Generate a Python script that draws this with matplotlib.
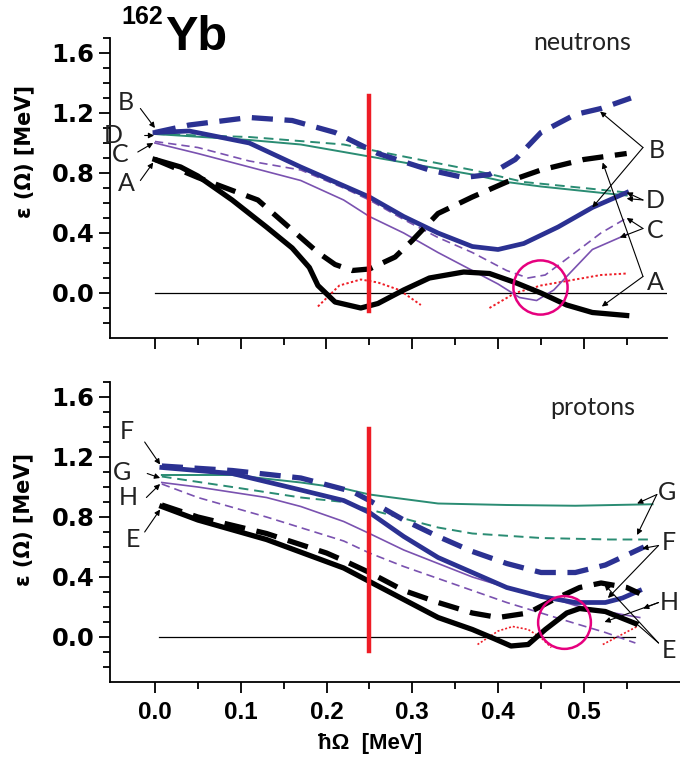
import matplotlib
matplotlib.use("Agg")
import matplotlib.pyplot as plt
from matplotlib.ticker import FixedLocator, FormatStrFormatter

# ---------------- data: neutrons (top panel) ----------------
nA_x = [0.0, 0.03, 0.05, 0.09, 0.13, 0.16, 0.18, 0.19, 0.21, 0.24, 0.26, 0.29, 0.32, 0.36, 0.39, 0.42, 0.45, 0.48, 0.51, 0.55]
nA_y = [0.89, 0.84, 0.78, 0.62, 0.44, 0.30, 0.17, 0.05, -0.06, -0.10, -0.07, 0.02, 0.10, 0.14, 0.13, 0.07, 0.0, -0.08, -0.13, -0.15]
nAd_x = [0.0, 0.05, 0.12, 0.16, 0.19, 0.21, 0.23, 0.25, 0.28, 0.30, 0.33, 0.37, 0.41, 0.45, 0.50, 0.55]
nAd_y = [0.89, 0.77, 0.62, 0.42, 0.27, 0.19, 0.15, 0.16, 0.24, 0.35, 0.53, 0.64, 0.74, 0.82, 0.89, 0.93]
nB_x = [0.0, 0.04, 0.11, 0.17, 0.21, 0.25, 0.29, 0.33, 0.37, 0.40, 0.43, 0.47, 0.51, 0.55]
nB_y = [1.07, 1.08, 1.00, 0.84, 0.74, 0.64, 0.51, 0.40, 0.31, 0.29, 0.33, 0.44, 0.57, 0.67]
nBd_x = [0.0, 0.04, 0.11, 0.16, 0.21, 0.26, 0.32, 0.36, 0.39, 0.42, 0.45, 0.49, 0.52, 0.555]
nBd_y = [1.07, 1.12, 1.17, 1.15, 1.07, 0.93, 0.82, 0.77, 0.79, 0.89, 1.07, 1.19, 1.23, 1.30]
nD_x = [0.0, 0.11, 0.17, 0.22, 0.29, 0.37, 0.41, 0.45, 0.50, 0.55]
nD_y = [1.06, 1.02, 0.99, 0.94, 0.87, 0.79, 0.74, 0.71, 0.68, 0.65]
nDd_x = [0.0, 0.11, 0.22, 0.29, 0.37, 0.43, 0.50, 0.55]
nDd_y = [1.06, 1.04, 0.99, 0.91, 0.82, 0.74, 0.70, 0.67]
nC_x = [0.0, 0.05, 0.11, 0.17, 0.22, 0.25, 0.29, 0.33, 0.37, 0.40, 0.425, 0.445, 0.465, 0.49, 0.51, 0.55]
nC_y = [1.00, 0.93, 0.84, 0.75, 0.62, 0.51, 0.40, 0.27, 0.15, 0.06, -0.03, -0.05, 0.02, 0.17, 0.29, 0.39]
nCd_x = [0.0, 0.05, 0.11, 0.17, 0.22, 0.25, 0.29, 0.33, 0.37, 0.41, 0.435, 0.455, 0.49, 0.52, 0.55]
nCd_y = [1.01, 0.97, 0.88, 0.82, 0.70, 0.62, 0.49, 0.37, 0.27, 0.15, 0.10, 0.12, 0.27, 0.40, 0.50]
nR1_x = [0.19, 0.215, 0.24, 0.26, 0.285, 0.31]
nR1_y = [-0.09, 0.05, 0.09, 0.07, 0.02, -0.08]
nR2_x = [0.39, 0.42, 0.45, 0.49, 0.52, 0.55]
nR2_y = [-0.10, 0.0, 0.05, 0.09, 0.12, 0.13]
n_circle = (0.449, 0.04)

# ---------------- data: protons (bottom panel) ----------------
pE_x = [0.008, 0.05, 0.13, 0.22, 0.25, 0.29, 0.33, 0.37, 0.395, 0.415, 0.435, 0.455, 0.48, 0.495, 0.525, 0.56]
pE_y = [0.87, 0.78, 0.65, 0.46, 0.37, 0.25, 0.13, 0.05, -0.01, -0.06, -0.05, 0.05, 0.16, 0.19, 0.17, 0.09]
pEd_x = [0.008, 0.05, 0.13, 0.20, 0.22, 0.25, 0.29, 0.33, 0.37, 0.40, 0.435, 0.465, 0.495, 0.52, 0.55, 0.565]
pEd_y = [0.88, 0.80, 0.69, 0.56, 0.51, 0.43, 0.31, 0.23, 0.16, 0.13, 0.16, 0.25, 0.33, 0.36, 0.33, 0.29]
pF_x = [0.008, 0.09, 0.17, 0.22, 0.25, 0.29, 0.33, 0.37, 0.41, 0.45, 0.49, 0.525, 0.545, 0.565]
pF_y = [1.13, 1.09, 0.98, 0.91, 0.83, 0.67, 0.53, 0.43, 0.33, 0.27, 0.23, 0.23, 0.26, 0.31]
pFd_x = [0.008, 0.09, 0.17, 0.21, 0.23, 0.25, 0.29, 0.33, 0.37, 0.41, 0.45, 0.49, 0.525, 0.555, 0.57]
pFd_y = [1.14, 1.11, 1.06, 1.00, 0.97, 0.91, 0.78, 0.67, 0.57, 0.49, 0.43, 0.43, 0.48, 0.56, 0.60]
pG_x = [0.008, 0.09, 0.17, 0.22, 0.25, 0.33, 0.41, 0.49, 0.58]
pG_y = [1.08, 1.08, 1.03, 0.99, 0.95, 0.89, 0.88, 0.875, 0.885]
pGd_x = [0.008, 0.09, 0.17, 0.22, 0.25, 0.29, 0.33, 0.37, 0.45, 0.53, 0.58]
pGd_y = [1.07, 1.00, 0.93, 0.90, 0.85, 0.79, 0.73, 0.69, 0.66, 0.65, 0.65]
pH_x = [0.008, 0.05, 0.13, 0.17, 0.22, 0.25, 0.29, 0.33, 0.37, 0.41, 0.45, 0.49, 0.525, 0.565]
pH_y = [1.03, 1.00, 0.93, 0.87, 0.77, 0.69, 0.58, 0.49, 0.40, 0.33, 0.28, 0.21, 0.17, 0.13]
pHd_x = [0.008, 0.05, 0.13, 0.22, 0.25, 0.29, 0.33, 0.37, 0.41, 0.45, 0.49, 0.525, 0.56]
pHd_y = [1.02, 0.93, 0.80, 0.64, 0.56, 0.47, 0.39, 0.31, 0.23, 0.16, 0.09, 0.03, -0.04]
pR1_x = [0.376, 0.40, 0.417, 0.435, 0.449, 0.462]
pR1_y = [-0.05, 0.04, 0.07, 0.05, 0.0, -0.07]
pR2_x = [0.522, 0.562]
pR2_y = [-0.05, 0.07]
p_circle = (0.477, 0.10)

# common
omega_crit = 0.25
zero_x = [0.0, 0.60]
zero_xp = [0.005, 0.56]
x_major = [0.0, 0.1, 0.2, 0.3, 0.4, 0.5]
x_minor = [0.05, 0.15, 0.25, 0.35, 0.45, 0.55]
y_major = [0.0, 0.4, 0.8, 1.2, 1.6]
y_minor = [-0.2, -0.1, 0.1, 0.2, 0.3, 0.5, 0.6, 0.7, 0.9, 1.0, 1.1, 1.3, 1.4, 1.5, 1.7]

BLUE = "#2B3192"
GREEN = "#2A8C73"
PURPLE = "#7A52B0"
RED = "#EE1C25"
MAG = "#E6007E"

fig = plt.figure(figsize=(6.8, 7.63), dpi=100)
ax1 = fig.add_axes([110/680, (763-338)/763, 557/680, 300/763])
ax2 = fig.add_axes([110/680, (763-682)/763, 570/680, 300/763])

TH = 3.8
TN = 1.2
dash_thick = (0, (4.0, 2.2))
dash_thin = (0, (5, 3))

def style(ax, xmax, labels, ylab_y):
    ax.set_xlim(-0.0524, xmax)
    ax.set_ylim(-0.3, 1.7)
    for s in ("top", "right"):
        ax.spines[s].set_visible(False)
    for s in ("left", "bottom"):
        ax.spines[s].set_linewidth(1.3)
    ax.xaxis.set_major_locator(FixedLocator(x_major))
    ax.xaxis.set_minor_locator(FixedLocator(x_minor))
    ax.yaxis.set_major_locator(FixedLocator(y_major))
    ax.yaxis.set_minor_locator(FixedLocator(y_minor))
    ax.tick_params(which="major", direction="out", length=8, width=1.3)
    ax.tick_params(which="minor", direction="out", length=5, width=1.3)
    ax.tick_params(axis="y", labelsize=17.5, pad=3)
    ax.tick_params(axis="x", labelsize=17.5, pad=6)
    ax.yaxis.set_major_formatter(FormatStrFormatter("%.1f"))
    ax.xaxis.set_major_formatter(FormatStrFormatter("%.1f"))
    if not labels:
        ax.tick_params(axis="x", labelbottom=False)
    for t in ax.get_yticklabels():
        t.set_fontfamily("DejaVu Sans")
        t.set_fontweight("bold")
    for t in ax.get_xticklabels():
        t.set_fontfamily("Liberation Sans")
        t.set_fontweight("bold")
    ax.set_ylabel("ε (Ω) [MeV]", fontsize=15, fontweight="bold",
                  family=["DejaVu Sans"])
    ax.yaxis.set_label_coords(-0.135, ylab_y)

style(ax1, 0.597, False, 0.62)
style(ax2, 0.612, True, 0.54)

# ---- top panel ----
ax1.plot(zero_x, [0, 0], color="black", lw=0.9)
ax1.plot(nR1_x, nR1_y, color=RED, lw=1.4, ls=(0, (1.2, 1.2)))
ax1.plot(nR2_x, nR2_y, color=RED, lw=1.4, ls=(0, (1.2, 1.2)))
ax1.plot(nDd_x, nDd_y, color=GREEN, lw=TN + 0.2, ls=dash_thin)
ax1.plot(nD_x, nD_y, color=GREEN, lw=TN + 0.2)
ax1.plot(nCd_x, nCd_y, color=PURPLE, lw=TN, ls=dash_thin)
ax1.plot(nC_x, nC_y, color=PURPLE, lw=TN)
ax1.plot(nBd_x, nBd_y, color=BLUE, lw=TH, ls=dash_thick)
ax1.plot(nB_x, nB_y, color=BLUE, lw=TH - 0.4)
ax1.plot(nAd_x, nAd_y, color="black", lw=TH, ls=dash_thick)
ax1.plot(nA_x, nA_y, color="black", lw=TH)
ax1.plot([omega_crit, omega_crit], [-0.12, 1.31], color=RED, lw=3.2)
ax1.plot([n_circle[0]], [n_circle[1]], marker="o", ms=39, mfc="none", mec=MAG, mew=1.8)

# ---- bottom panel ----
ax2.plot(zero_xp, [0, 0], color="black", lw=0.9)
ax2.plot(pR1_x, pR1_y, color=RED, lw=1.2, ls=(0, (1.2, 1.2)))
ax2.plot(pR2_x, pR2_y, color=RED, lw=1.2, ls=(0, (1.2, 1.2)))
ax2.plot(pGd_x, pGd_y, color=GREEN, lw=TN + 0.2, ls=dash_thin)
ax2.plot(pG_x, pG_y, color=GREEN, lw=TN + 0.2)
ax2.plot(pHd_x, pHd_y, color=PURPLE, lw=TN, ls=dash_thin)
ax2.plot(pH_x, pH_y, color=PURPLE, lw=TN)
ax2.plot(pFd_x, pFd_y, color=BLUE, lw=TH, ls=dash_thick)
ax2.plot(pF_x, pF_y, color=BLUE, lw=TH - 0.4)
ax2.plot(pEd_x, pEd_y, color="black", lw=TH, ls=dash_thick)
ax2.plot(pE_x, pE_y, color="black", lw=TH)
ax2.plot([omega_crit, omega_crit], [-0.09, 1.39], color=RED, lw=3.2)
ax2.plot([p_circle[0]], [p_circle[1]], marker="o", ms=38, mfc="none", mec=MAG, mew=1.8)

ax2.set_xlabel("ħΩ  [MeV]", fontsize=16, fontweight="bold",
               family=["Liberation Sans", "DejaVu Sans"])
ax2.xaxis.set_label_coords(0.456, -0.17)

# ---- annotations ----
LFONT = dict(fontsize=18, family=["Lato", "DejaVu Sans"], fontweight="normal",
             color="#222222", ha="center", va="center", clip_on=False)
AP = dict(arrowstyle="-|>", lw=0.8, color="black", mutation_scale=8,
          shrinkA=0, shrinkB=0)

def label(ax, txt, pos, arrows):
    ax.text(pos[0], pos[1], txt, **LFONT)
    for tail, head in arrows:
        ax.annotate("", xy=head, xytext=tail, arrowprops=AP, annotation_clip=False)

# top left
label(ax1, "B", (-0.034, 1.27), [((-0.017, 1.23), (0.0, 1.10))])
label(ax1, "D", (-0.049, 1.05), [((-0.012, 1.05), (-0.001, 1.05))])
label(ax1, "C", (-0.041, 0.92), [((-0.02, 0.94), (-0.002, 1.0))])
label(ax1, "A", (-0.033, 0.73), [((-0.017, 0.75), (-0.002, 0.87))])
# top right
label(ax1, "B", (0.585, 0.95), [((0.569, 0.97), (0.519, 1.21)), ((0.569, 0.97), (0.51, 0.57))])
label(ax1, "D", (0.583, 0.62), [((0.569, 0.62), (0.55, 0.67)), ((0.569, 0.62), (0.55, 0.63))])
label(ax1, "C", (0.583, 0.42), [((0.569, 0.43), (0.55, 0.50)), ((0.569, 0.43), (0.542, 0.37))])
label(ax1, "A", (0.583, 0.07), [((0.569, 0.11), (0.522, 0.87)), ((0.569, 0.11), (0.521, -0.09))])
# bottom left
label(ax2, "F", (-0.033, 1.37), [((-0.012, 1.30), (0.006, 1.15))])
label(ax2, "G", (-0.038, 1.10), [((-0.009, 1.09), (0.006, 1.06))])
label(ax2, "H", (-0.031, 0.93), [((-0.01, 0.93), (0.006, 1.02))])
label(ax2, "E", (-0.026, 0.65), [((-0.012, 0.70), (0.006, 0.85))])
# bottom right
label(ax2, "G", (0.597, 0.96), [((0.585, 0.95), (0.562, 0.89)), ((0.585, 0.95), (0.562, 0.68))])
label(ax2, "F", (0.599, 0.63), [((0.587, 0.61), (0.568, 0.59)), ((0.587, 0.61), (0.528, 0.26))])
label(ax2, "H", (0.599, 0.23), [((0.587, 0.23), (0.569, 0.19)), ((0.587, 0.23), (0.524, 0.10))])
label(ax2, "E", (0.599, -0.09), [((0.587, -0.04), (0.524, 0.35)), ((0.587, -0.04), (0.557, 0.11))])

# panel titles
ax1.text(0.498, 1.67, "neutrons", fontsize=18, family=["Lato", "DejaVu Sans"],
         color="#222222", ha="center", va="center", clip_on=False)
ax2.text(0.51, 1.53, "protons", fontsize=18, family=["Lato", "DejaVu Sans"],
         color="#222222", ha="center", va="center", clip_on=False)

fig.text(121/680, 1 - 17/763, "162", fontsize=18, fontweight="bold",
         family="Liberation Sans", ha="left", va="center")
fig.text(165/680, 1 - 38/763, "Yb", fontsize=35, fontweight="bold",
         family="Liberation Sans", ha="left", va="center")

fig.savefig("out.png", dpi=100)
